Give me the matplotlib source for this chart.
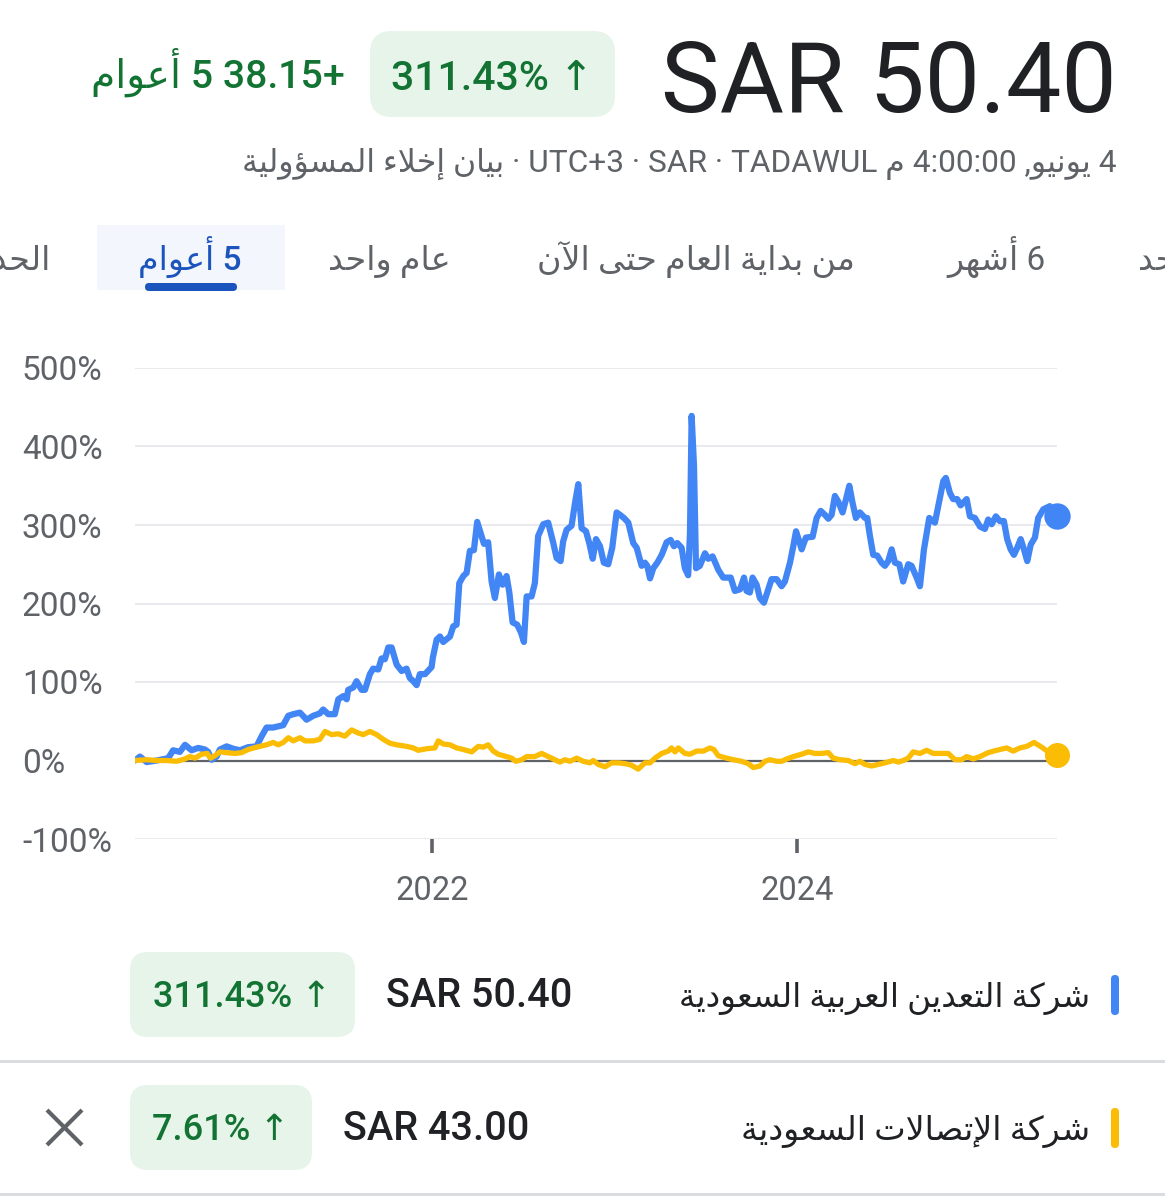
import matplotlib
matplotlib.use("Agg")
import matplotlib.pyplot as plt
from matplotlib.patches import FancyBboxPatch, Rectangle

plt.rcParams['font.family'] = ['Roboto', 'DejaVu Sans']

# ---------------------------------------------------------------- data
# Total return since the start of the 5-year window (%), by decimal year
maaden_t = [
    2020.373, 2020.400, 2020.437, 2020.492, 2020.555, 2020.582, 2020.619, 2020.647, 2020.683, 2020.719,
    2020.756, 2020.774, 2020.793, 2020.820, 2020.838, 2020.875, 2020.911, 2020.948, 2020.993,
    2021.039, 2021.067, 2021.094, 2021.130, 2021.185, 2021.213, 2021.240, 2021.277, 2021.313, 2021.350,
    2021.386, 2021.404, 2021.432, 2021.468, 2021.487, 2021.514, 2021.533, 2021.541, 2021.569, 2021.587,
    2021.615, 2021.633, 2021.660, 2021.678, 2021.706, 2021.724, 2021.742, 2021.761, 2021.779, 2021.807,
    2021.834, 2021.861, 2021.879, 2021.898, 2021.916, 2021.934, 2021.962, 2021.998,
    2022.005, 2022.026, 2022.044, 2022.062, 2022.099, 2022.117, 2022.135, 2022.150, 2022.172, 2022.190,
    2022.208, 2022.230, 2022.248, 2022.272, 2022.285, 2022.308, 2022.327, 2022.345, 2022.367, 2022.387,
    2022.409, 2022.424, 2022.442, 2022.467, 2022.488, 2022.504, 2022.519, 2022.546, 2022.564, 2022.582,
    2022.610, 2022.637, 2022.665, 2022.683, 2022.705, 2022.719, 2022.738, 2022.765, 2022.784, 2022.802,
    2022.820, 2022.844, 2022.862, 2022.881, 2022.899, 2022.921, 2022.942, 2022.966, 2022.988,
    2023.012, 2023.030, 2023.052, 2023.076, 2023.103, 2023.122, 2023.149, 2023.167, 2023.180, 2023.195,
    2023.213, 2023.235, 2023.259, 2023.286, 2023.308, 2023.326, 2023.344, 2023.368, 2023.386, 2023.404,
    2023.414, 2023.423, 2023.436, 2023.447, 2023.468, 2023.496, 2023.514, 2023.538, 2023.569, 2023.596,
    2023.637, 2023.660, 2023.688, 2023.710, 2023.724, 2023.742, 2023.757, 2023.779, 2023.797, 2023.819,
    2023.843, 2023.861, 2023.889, 2023.916, 2023.934, 2023.962, 2023.980, 2023.995,
    2024.013, 2024.026, 2024.049, 2024.086, 2024.108, 2024.130, 2024.153, 2024.172, 2024.190, 2024.208,
    2024.226, 2024.250, 2024.268, 2024.287, 2024.305, 2024.323, 2024.345, 2024.373, 2024.385, 2024.400,
    2024.418, 2024.440, 2024.464, 2024.482, 2024.500, 2024.519, 2024.537, 2024.561, 2024.582, 2024.610,
    2024.628, 2024.656, 2024.674, 2024.696, 2024.725, 2024.756, 2024.784, 2024.802, 2024.816, 2024.838,
    2024.856, 2024.878, 2024.897, 2024.930, 2024.948, 2024.975,
    2025.003, 2025.030, 2025.048, 2025.067, 2025.090, 2025.112, 2025.134, 2025.152, 2025.171, 2025.189,
    2025.207, 2025.226, 2025.244, 2025.262, 2025.281, 2025.304, 2025.322, 2025.350, 2025.386, 2025.423,
]
maaden_pct = [
    0, 5, -2, 0, 3, 13, 11, 20, 13, 16,
    14, 11, 1, 5, 14, 18, 15, 13, 17,
    18, 31, 42, 42, 45, 57, 59, 61, 52, 57,
    60, 65, 59, 59, 78, 82, 78, 90, 93, 101,
    90, 90, 110, 117, 116, 130, 129, 144, 144, 122,
    114, 117, 105, 101, 96, 110, 110, 119,
    131, 154, 158, 151, 158, 171, 173, 226, 235, 239,
    267, 268, 304, 286, 276, 278, 228, 207, 237, 224,
    235, 214, 176, 173, 163, 151, 209, 209, 226, 286,
    301, 303, 277, 258, 254, 279, 294, 299, 328, 352,
    296, 292, 277, 257, 282, 273, 252, 250, 271,
    316, 313, 309, 303, 277, 271, 248, 252, 248, 232,
    245, 252, 262, 278, 281, 273, 277, 271, 245, 236,
    290, 439, 375, 245, 248, 264, 257, 260, 243, 233,
    233, 216, 218, 233, 216, 214, 233, 224, 207, 201,
    218, 231, 231, 222, 228, 252, 273, 292,
    279, 269, 284, 285, 309, 318, 313, 308, 313, 337,
    330, 316, 332, 350, 328, 309, 316, 309, 309, 286,
    262, 261, 252, 248, 254, 269, 252, 250, 228, 250,
    248, 233, 222, 269, 309, 303, 335, 356, 360, 341,
    333, 333, 325, 333, 311, 309,
    298, 295, 307, 301, 311, 305, 305, 282, 269, 262,
    271, 282, 269, 254, 275, 284, 309, 320, 324, 311.43,
]

stc_t = [
    2020.373, 2020.437, 2020.492, 2020.546, 2020.601, 2020.647, 2020.674, 2020.701, 2020.738, 2020.769,
    2020.787, 2020.811, 2020.838, 2020.875, 2020.921, 2020.957, 2020.993,
    2021.039, 2021.094, 2021.130, 2021.158, 2021.185, 2021.213, 2021.240, 2021.277, 2021.304, 2021.350,
    2021.386, 2021.414, 2021.450, 2021.487, 2021.523, 2021.560, 2021.596, 2021.624, 2021.660, 2021.697,
    2021.733, 2021.770, 2021.807, 2021.861, 2021.898, 2021.925, 2021.971,
    2022.016, 2022.035, 2022.062, 2022.099, 2022.135, 2022.172, 2022.218, 2022.254, 2022.281, 2022.308,
    2022.336, 2022.363, 2022.409, 2022.437, 2022.460, 2022.492, 2022.519, 2022.564, 2022.601, 2022.637,
    2022.674, 2022.701, 2022.729, 2022.756, 2022.793, 2022.829, 2022.866, 2022.884, 2022.911, 2022.948,
    2022.985,
    2023.021, 2023.058, 2023.094, 2023.130, 2023.167, 2023.195, 2023.222, 2023.259, 2023.295, 2023.313,
    2023.332, 2023.350, 2023.386, 2023.414, 2023.450, 2023.487, 2023.523, 2023.545, 2023.569, 2023.615,
    2023.651, 2023.697, 2023.733, 2023.761, 2023.797, 2023.825, 2023.852, 2023.889, 2023.916, 2023.944,
    2023.980,
    2024.026, 2024.062, 2024.099, 2024.135, 2024.172, 2024.199, 2024.236, 2024.281, 2024.318, 2024.345,
    2024.373, 2024.409, 2024.446, 2024.482, 2024.528, 2024.555, 2024.582, 2024.610, 2024.637, 2024.674,
    2024.711, 2024.747, 2024.784, 2024.829, 2024.866, 2024.902, 2024.930, 2024.966,
    2025.003, 2025.048, 2025.094, 2025.149, 2025.185, 2025.222, 2025.259, 2025.299, 2025.341, 2025.377,
    2025.423,
]
stc_pct = [
    0, 1, 0, 0, -1, 2, 5, 3, 8, 9,
    3, 6, 11, 10, 9, 10, 14,
    17, 20, 23, 20, 23, 29, 25, 29, 25, 25,
    27, 37, 33, 34, 31, 39, 35, 33, 37, 33,
    27, 22, 20, 18, 16, 13, 15,
    16, 25, 21, 20, 16, 14, 11, 18, 17, 20,
    12, 8, 5, 3, -1, 1, 5, 5, 9, 5,
    1, -2, 1, -1, 3, -1, -3, 0, -5, -8,
    -3,
    -3, -4, -6, -11, -3, -3, 3, 9, 12, 16,
    11, 16, 9, 8, 12, 12, 16, 14, 6, 3,
    1, -1, -4, -9, -7, -1, 1, -1, -1, 2,
    5,
    8, 11, 9, 9, 10, 3, 1, 0, -4, -1,
    -5, -7, -5, -3, 0, -2, 0, 3, 11, 9,
    13, 9, 9, 9, 1, 1, 5, 2,
    5, 10, 13, 16, 12, 16, 18, 23, 17, 11,
    7.61,
]

pct_ticks = [-100, 0, 100, 200, 300, 400, 500]
year_ticks = [2022, 2024]

maaden_price = "SAR 50.40"
stc_price = "SAR 43.00"
maaden_change = "38.15"

# ---------------------------------------------------------------- Arabic shaping
# base presentation form and joining type (0 none, 1 right-joining, 2 dual)
_FORMS = {
    '\u0621': (0xFE80, 0), '\u0622': (0xFE81, 1), '\u0623': (0xFE83, 1), '\u0624': (0xFE85, 1),
    '\u0625': (0xFE87, 1), '\u0627': (0xFE8D, 1), '\u0628': (0xFE8F, 2), '\u0629': (0xFE93, 1),
    '\u062A': (0xFE95, 2), '\u062D': (0xFEA1, 2), '\u062E': (0xFEA5, 2), '\u062F': (0xFEA9, 1),
    '\u0631': (0xFEAD, 1), '\u0633': (0xFEB1, 2), '\u0634': (0xFEB5, 2), '\u0635': (0xFEB9, 2),
    '\u0639': (0xFEC9, 2), '\u0642': (0xFED5, 2), '\u0643': (0xFED9, 2), '\u0644': (0xFEDD, 2),
    '\u0645': (0xFEE1, 2), '\u0646': (0xFEE5, 2), '\u0647': (0xFEE9, 2), '\u0648': (0xFEED, 1),
    '\u0649': (0xFEEF, 1), '\u064A': (0xFEF1, 2),
}
_LAM_ALEF = {'\u0622': 0xFEF5, '\u0623': 0xFEF7, '\u0625': 0xFEF9, '\u0627': 0xFEFB}


def _shape(s):
    out = []
    i, n = 0, len(s)
    while i < n:
        c = s[i]
        if c not in _FORMS:
            out.append(c)
            i += 1
            continue
        prev = i > 0 and s[i - 1] in _FORMS and _FORMS[s[i - 1]][1] == 2
        if c == '\u0644' and i + 1 < n and s[i + 1] in _LAM_ALEF:
            out.append(chr(_LAM_ALEF[s[i + 1]] + (1 if prev else 0)))
            i += 2
            continue
        base, kind = _FORMS[c]
        nxt = kind == 2 and i + 1 < n and s[i + 1] in _FORMS and _FORMS[s[i + 1]][1] > 0
        if kind == 0:
            form = 0
        elif prev and nxt:
            form = 3
        elif nxt:
            form = 2
        elif prev:
            form = 1
        else:
            form = 0
        out.append(chr(base + form))
        i += 1
    return ''.join(out)


def ar(s):
    """Arabic text shaped and put in left-to-right display order."""
    return _shape(s)[::-1]


# ---------------------------------------------------------------- figure
W, H = 1165, 1200
fig = plt.figure(figsize=(W / 100, H / 100), dpi=100)
fig.patch.set_facecolor('white')

ui = fig.add_axes([0, 0, 1, 1])
ui.set_xlim(0, W)
ui.set_ylim(H, 0)
ui.axis('off')

GREEN = '#137333'
GREEN_BG = '#e6f4ea'
DARK = '#202124'
GRAY = '#5f6368'
BLUE = '#4285f4'
YELLOW = '#fbbc04'
TAB_BLUE = '#1c54bd'


def pill(x, y, w, h, r, color, z=1):
    ui.add_patch(FancyBboxPatch((x, y), w, h, boxstyle=f"round,pad=0,rounding_size={r}",
                                fc=color, ec='none', zorder=z))


# header
ui.text(1117, 112, maaden_price, ha='right', va='baseline', fontsize=71, color=DARK)
pill(370, 31, 245, 86, 22, GREEN_BG)
ui.text(492, 90, f"{maaden_pct[-1]:.2f}% \u2191", ha='center', va='baseline',
        fontsize=29.5, color=GREEN, fontweight='medium')
ui.text(345, 88, ar('أعوام') + ' 5 ' + maaden_change + '+', ha='right', va='baseline',
        fontsize=28.3, color=GREEN, fontweight='medium')
ui.text(1117, 172,
        ar('بيان إخلاء المسؤولية') + ' \u00b7 UTC+3 \u00b7 SAR \u00b7 TADAWUL ' + ar('م')
        + ' 4:00:00 ,' + ar('يونيو') + ' 4',
        ha='right', va='baseline', fontsize=22.8, color=GRAY)

# range tabs
ui.add_patch(Rectangle((97, 225), 188, 65, fc='#f3f6fc', ec='none', zorder=0))
pill(145, 283, 92, 8, 4, TAB_BLUE, z=2)
tab_y = 270
ui.text(50, tab_y, ar('الحد الأقصى'), ha='right', va='baseline', fontsize=24, color=GRAY)
ui.text(190, tab_y, ar('أعوام') + ' 5', ha='center', va='baseline', fontsize=24,
        color=TAB_BLUE, fontweight='medium')
ui.text(389, tab_y, ar('عام واحد'), ha='center', va='baseline', fontsize=24, color=GRAY)
ui.text(696, tab_y, ar('من بداية العام حتى الآن'), ha='center', va='baseline', fontsize=24, color=GRAY)
ui.text(996, tab_y, ar('أشهر') + ' 6', ha='center', va='baseline', fontsize=24, color=GRAY)
ui.text(1138, tab_y, ar('شهر واحد'), ha='left', va='baseline', fontsize=24, color=GRAY)

# ---------------------------------------------------------------- chart
ax = fig.add_axes([135 / W, 1 - 839 / H, 922 / W, 471 / H])
ax.set_facecolor('none')
ax.set_xlim(2020.373, 2025.425)
ax.set_ylim(-100, 500)
for s in ax.spines.values():
    s.set_visible(False)

ax.set_yticks(pct_ticks)
ax.set_yticklabels([f"{v}%" for v in pct_ticks])
ax.tick_params(axis='y', length=0, pad=81.4, labelsize=24, labelcolor=GRAY)
for lab in ax.get_yticklabels():
    lab.set_horizontalalignment('left')
ax.yaxis.grid(True, color='#e8eaed', lw=1.4)
ax.set_axisbelow(True)

ax.set_xticks(year_ticks)
ax.set_xticklabels([str(y) for y in year_ticks])
ax.tick_params(axis='x', length=10, width=2.6, color='#5f6368', pad=16,
               labelsize=23.5, labelcolor=GRAY)

ax.axhline(0, color='#5f6368', lw=1.6, zorder=2)

ax.plot(maaden_t, maaden_pct, color=BLUE, lw=4.5, solid_joinstyle='round',
        solid_capstyle='round', zorder=3)
ax.plot(stc_t, stc_pct, color=YELLOW, lw=3.8, solid_joinstyle='round',
        solid_capstyle='round', zorder=4)
ax.plot(maaden_t[-1], maaden_pct[-1], 'o', ms=19, color=BLUE, mec='none', zorder=5, clip_on=False)
ax.plot(stc_t[-1], stc_pct[-1], 'o', ms=18, color=YELLOW, mec='none', zorder=5, clip_on=False)

# ---------------------------------------------------------------- legend rows
rows = [
    (1007, 'شركة التعدين العربية السعودية', 23.5, BLUE, maaden_price, maaden_pct[-1], 130, 225, 386),
    (1140, 'شركة الإتصالات السعودية', 24, YELLOW, stc_price, stc_pct[-1], 130, 182, 343),
]
for base, name, name_fs, col, price, chg, px0, pw, price_x in rows:
    pill(1111, base - 32, 8, 40, 4, col, z=2)
    ui.text(1090, base, ar(name), ha='right', va='baseline', fontsize=name_fs, color=DARK)
    ui.text(price_x, base, price, ha='left', va='baseline', fontsize=28.5, color=DARK,
            fontweight='medium')
    pill(px0, base - 55, pw, 85, 18, GREEN_BG)
    ui.text(px0 + pw / 2, base, f"{chg:.2f}% \u2191", ha='center', va='baseline',
            fontsize=26, color=GREEN, fontweight='medium')

ui.plot([0, W], [1061, 1061], color='#dadce0', lw=2.2)
ui.plot([0, W], [1194, 1194], color='#dadce0', lw=2.2)

# remove (close) icon
ui.plot([47, 82], [1110, 1145], color=GRAY, lw=3, solid_capstyle='butt')
ui.plot([47, 82], [1145, 1110], color=GRAY, lw=3, solid_capstyle='butt')

fig.savefig('out.png', dpi=100, facecolor='white')
